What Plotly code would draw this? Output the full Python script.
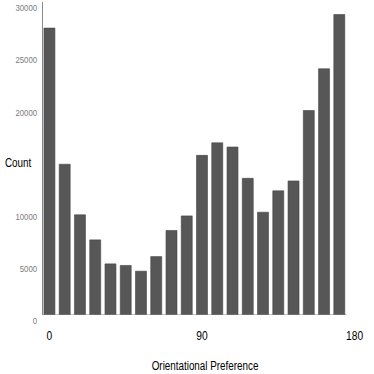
import plotly.graph_objects as go

# orientation bins (degrees) and counts
orientation = [0, 9, 18, 27, 36, 45, 54, 63, 72, 81,
               90, 99, 108, 117, 126, 135, 144, 153, 162, 171]
counts = [27500, 14450, 9600, 7200, 4900, 4750, 4200, 5600, 8100, 9500,
          15300, 16500, 16100, 13100, 9850, 11900, 12850, 19600, 23600, 28800]

x_ticks = [0, 90, 180]
# 15000 is left out: the "Count" label sits there
y_ticks = [0, 5000, 10000, 20000, 25000, 30000]

font = "Liberation Sans, Arial, sans-serif"

fig = go.Figure()
fig.add_trace(go.Bar(
    x=orientation,
    y=counts,
    marker=dict(color="#575757", line=dict(color="#444444", width=0.6)),
))

fig.update_layout(
    width=374, height=374,
    margin=dict(l=43, r=13, t=2, b=59),
    paper_bgcolor="white",
    plot_bgcolor="white",
    bargap=0.28,
    showlegend=False,
    font=dict(family=font, color="black"),
)

fig.update_xaxes(
    range=[-3.8, 183.8],
    tickvals=x_ticks,
    ticktext=[str(v) for v in x_ticks],
    tickfont=dict(size=12.5, color="black"),
    ticks="",
    ticklabelstandoff=11,
    showgrid=False,
    zeroline=False,
    showline=False,
)
fig.update_yaxes(
    range=[0, 30000],
    tickvals=y_ticks,
    ticktext=[str(v) for v in y_ticks],
    tickfont=dict(size=9.5, color="#7a7a7a"),
    ticks="",
    ticklabelshift=6,
    ticklabelstandoff=3,
    showgrid=False,
    zeroline=False,
    showline=True,
    linecolor="#8a8a8a",
    linewidth=1,
)

# bottom axis line only under the bars
fig.add_shape(type="line", xref="x", yref="y",
              x0=-3.8, x1=175.3, y0=0, y1=0,
              line=dict(color="#8a8a8a", width=1.2))

fig.add_annotation(text="Count", xref="paper", yref="paper",
                   x=-0.02, y=0.485, xanchor="right", yanchor="middle",
                   showarrow=False, font=dict(size=12, color="black"))
fig.add_annotation(text="Orientational Preference", xref="paper", yref="paper",
                   x=0.51, y=-0.163, xanchor="center", yanchor="middle",
                   showarrow=False, font=dict(size=12, color="black"))

# no body margin, and squeeze the text horizontally like the narrow face in the original
post = """
document.body.style.margin = '0';
document.querySelectorAll('.main-svg text').forEach(function (t) {
    var w = t.getComputedTextLength();
    if (w > 0) {
        t.setAttribute('lengthAdjust', 'spacingAndGlyphs');
        t.setAttribute('textLength', (w * 0.82).toFixed(2));
    }
});
"""

fig.write_html("out.html", post_script=post, config={"displayModeBar": False})
